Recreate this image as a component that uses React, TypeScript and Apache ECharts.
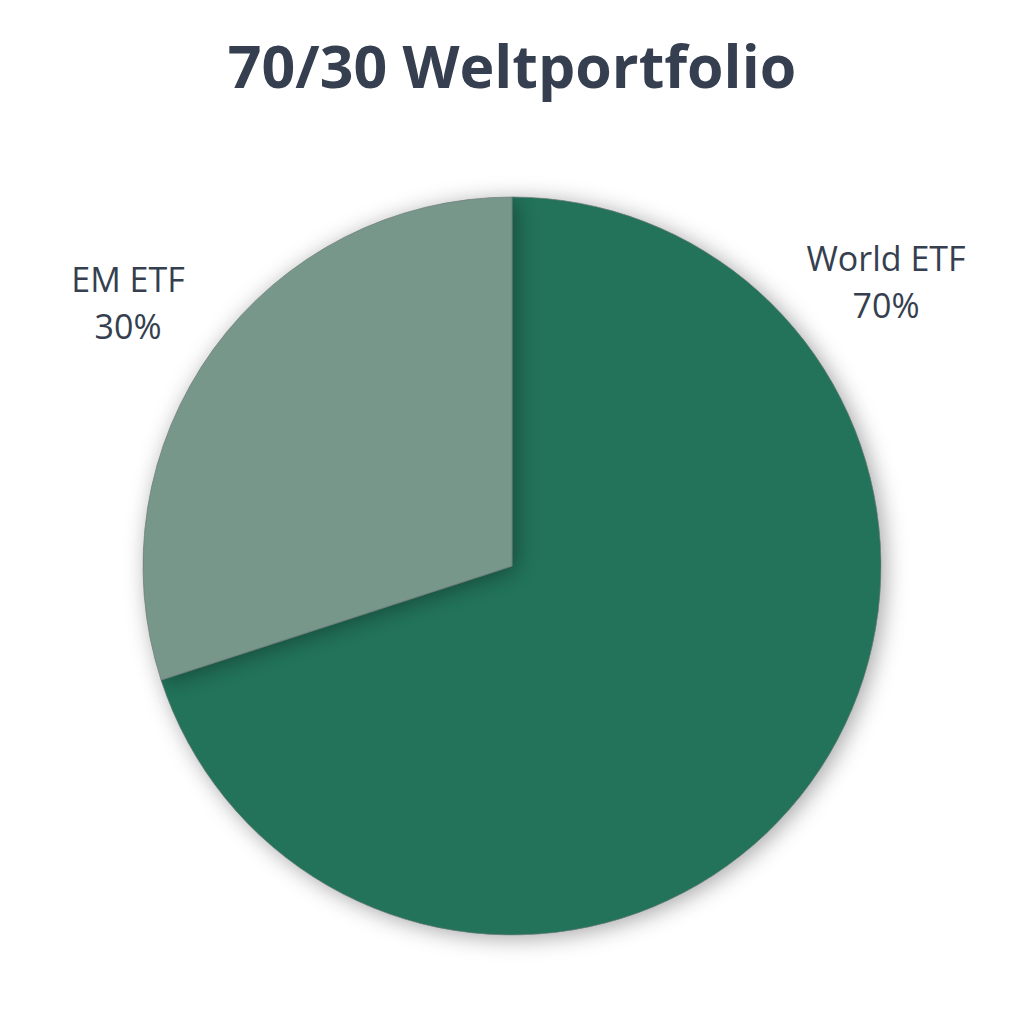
import { useEffect, useRef } from 'react'
import * as echarts from 'echarts'

const TITLE = '70/30 Weltportfolio'
const NAMES = ['World ETF', 'EM ETF']
const VALUES = [70, 30]
const COLORS = ['#24735a', '#76978a']
// label anchor points (label placement only)
const LABEL_POS = [
  [886, 281],
  [128, 302],
]

export default function App() {
  const elRef = useRef<HTMLDivElement>(null)

  useEffect(() => {
    if (!elRef.current) return
    const chart = echarts.init(elRef.current, undefined, { renderer: 'svg' })
    chart.setOption({
      animation: false,
      backgroundColor: '#ffffff',
      title: {
        text: TITLE,
        left: 'center',
        top: 30,
        textStyle: {
          fontFamily: 'Open Sans',
          fontWeight: 'bold',
          fontSize: 59,
          color: '#353f4f',
        },
      },
      series: [
        {
          type: 'pie',
          center: [512, 566],
          radius: [0, 369],
          startAngle: 90,
          clockwise: true,
          data: NAMES.map((n, i) => ({
            name: n,
            value: VALUES[i],
            itemStyle: { color: COLORS[i] },
          })),
          itemStyle: {
            borderColor: 'rgba(110,120,120,0.7)',
            borderWidth: 1,
            shadowBlur: 22,
            shadowColor: 'rgba(0,0,0,0.35)',
            shadowOffsetX: 4,
            shadowOffsetY: 3,
          },
          label: {
            show: true,
            position: 'outside',
            formatter: (p: any) => `${p.name}\n${p.value}%`,
            fontFamily: 'Open Sans',
            fontSize: 34,
            lineHeight: 47,
            color: '#353f4f',
            align: 'center',
            overflow: 'none',
            edgeDistance: 0,
          },
          labelLine: { show: false },
          labelLayout: (p: any) => ({
            x: LABEL_POS[p.dataIndex][0],
            y: LABEL_POS[p.dataIndex][1],
            align: 'center',
            verticalAlign: 'middle',
          }),
          emphasis: { disabled: true },
        },
      ],
    })
    return () => chart.dispose()
  }, [])

  return (
    <div
      ref={elRef}
      style={{ position: 'fixed', left: 0, top: 0, width: 1024, height: 1024 }}
    />
  )
}
